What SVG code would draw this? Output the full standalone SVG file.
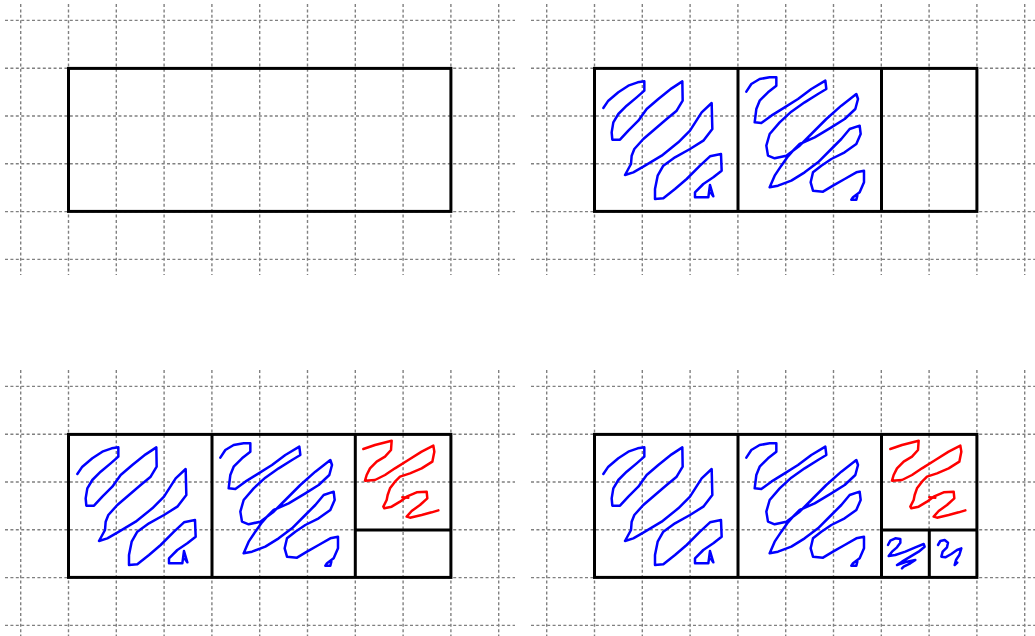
<svg xmlns="http://www.w3.org/2000/svg" xmlns:xlink="http://www.w3.org/1999/xlink" width="1035" height="636" viewBox="0 0 1035 636">
<style>
.grid{stroke:#808080;stroke-width:1.4;stroke-dasharray:3 2.4;fill:none}
.box{fill:none;stroke:#000;stroke-width:3}
.div{stroke:#000;stroke-width:3;fill:none}
.blue{fill:none;stroke:#0000ff;stroke-width:7.5;stroke-linejoin:round;stroke-linecap:round}
.red{fill:none;stroke:#ff0000;stroke-width:7.5;stroke-linejoin:round;stroke-linecap:round}
</style>
<defs>
<g id="grid" class="grid">
<path d="M5,20.4H515M5,68.2H515M5,116H515M5,163.8H515M5,211.6H515M5,259.4H515"/>
<path d="M20.7,4V275M68.5,4V275M116.3,4V275M164.1,4V275M211.9,4V275M259.7,4V275M307.5,4V275M355.3,4V275M403.1,4V275M450.9,4V275M498.7,4V275"/>
</g>
<path id="s1" class="blue" d="M25,117 L40,95 L70,70 L100,50 L128,40 L148,37 L148,65 L125,85 L95,110 L70,135 L55,160 L50,190 L52,212 L75,212 L100,185 L130,155 L155,120 L190,90 L230,58 L262,37 L263,95 L245,125 L215,150 L180,180 L145,210 L118,240 L110,260 L108,285 L90,318 L115,310 L150,290 L200,260 L250,220 L285,185 L320,130 L350,102 L352,180 L325,215 L285,240 L240,265 L205,290 L188,320 L180,360 L180,390 L205,388 L240,360 L275,330 L315,290 L345,262 L378,255 L380,305 L355,325 L325,345 L300,370 L300,385 L340,385 L345,348 L355,382 L348,372"/>
<path id="s2" class="blue" d="M25,68 L40,45 L65,30 L95,25 L115,25 L115,50 L90,70 L65,95 L55,120 L50,160 L70,162 L100,140 L140,115 L180,90 L220,60 L262,35 L265,60 L240,75 L200,100 L160,128 L125,160 L95,195 L85,230 L90,260 L110,268 L145,260 L185,230 L220,195 L265,150 L310,110 L355,75 L360,90 L352,120 L320,150 L280,175 L230,205 L185,225 L165,245 L150,262 L130,290 L110,320 L95,355 L120,350 L160,335 L200,310 L240,280 L280,240 L310,210 L335,180 L365,170 L368,195 L355,225 L320,250 L280,270 L250,290 L225,310 L218,340 L225,365 L255,368 L285,350 L320,330 L355,310 L378,305 L378,340 L365,370 L345,385 L340,392 L355,392 L358,380"/>
<g id="s3" class="red">
<path d="M25,42 L60,30 L110,17 L108,45 L90,65 L65,80 L45,100 L35,120 L30,137 L60,135 L90,120 L120,100 L160,75 L200,50 L235,32 L238,50 L232,80 L200,100 L165,115 L135,125 L120,140 L105,160 L98,180 L95,195 L85,215 L88,220 L110,215 L135,200 L155,185 L185,172 L215,170 L217,190 L195,210 L170,228 L155,245 L165,248 L200,240 L230,232 L250,226"/>
<path d="M142,187 L160,188"/>
</g>
<g id="s4" class="blue">
<path d="M18,45 L25,32 L40,25 L55,27 L55,38 L45,52 L30,65 L20,78 L40,75 L70,65 L100,52 L125,42 L128,50 L110,65 L85,80 L60,95 L45,105 L75,95 L100,90 L85,100 L65,110 L60,115"/>
<path d="M168,45 L175,33 L188,30 L198,38 L195,52 L182,65 L178,80 L190,82 L208,72 L225,60 L238,55 L232,75 L222,90 L218,105 L226,98"/>
</g>
</defs>

<g id="panel-top-left">
<use xlink:href="#grid" href="#grid"/>
<rect class="box" x="68.5" y="68.4" width="382.4" height="143"/>
</g>

<g id="panel-top-right">
<use xlink:href="#grid" href="#grid" transform="translate(526,0)"/>
<use xlink:href="#s1" href="#s1" transform="translate(595,69) scale(0.33333)"/>
<use xlink:href="#s2" href="#s2" transform="translate(738,69) scale(0.33333)"/>
<rect class="box" x="594.5" y="68.4" width="382.4" height="143"/>
<path class="div" d="M738,68.4V211.4M881.5,68.4V211.4"/>
</g>

<g id="panel-bottom-left">
<use xlink:href="#grid" href="#grid" transform="translate(0,366)"/>
<use xlink:href="#s1" href="#s1" transform="translate(69,435) scale(0.33333)"/>
<use xlink:href="#s2" href="#s2" transform="translate(212,435) scale(0.33333)"/>
<use xlink:href="#s3" href="#s3" transform="translate(355,435) scale(0.33333)"/>
<rect class="box" x="68.5" y="434.4" width="382.4" height="143"/>
<path class="div" d="M212,434.4V577.4M355.3,434.4V577.4M355.3,530H450.9"/>
</g>

<g id="panel-bottom-right">
<use xlink:href="#grid" href="#grid" transform="translate(526,366)"/>
<use xlink:href="#s1" href="#s1" transform="translate(595,435) scale(0.33333)"/>
<use xlink:href="#s2" href="#s2" transform="translate(738,435) scale(0.33333)"/>
<use xlink:href="#s3" href="#s3" transform="translate(882,435) scale(0.33333)"/>
<use xlink:href="#s4" href="#s4" transform="translate(882,530) scale(0.33333)"/>
<rect class="box" x="594.5" y="434.4" width="382.4" height="143"/>
<path class="div" d="M738,434.4V577.4M881.5,434.4V577.4M881.5,530H976.9M929.3,530V577.4"/>
</g>
</svg>
